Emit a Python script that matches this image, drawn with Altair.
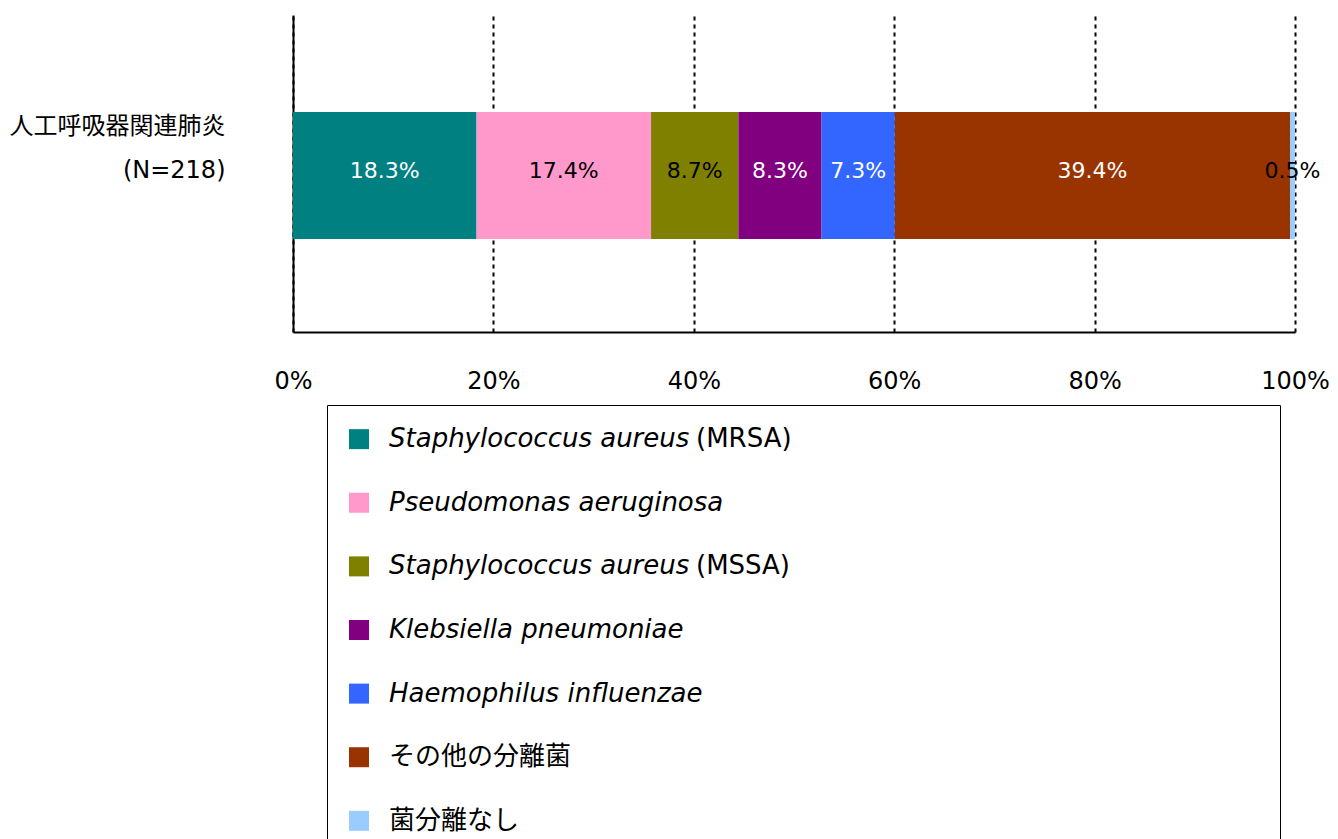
import altair as alt
import pandas as pd

# ---- data ----
row_label = "人工呼吸器関連肺炎|(N=218)"
organisms = [
    "Staphylococcus aureus (MRSA)",
    "Pseudomonas aeruginosa",
    "Staphylococcus aureus (MSSA)",
    "Klebsiella pneumoniae",
    "Haemophilus influenzae",
    "その他の分離菌",
    "菌分離なし",
]
legend_italic = [
    "Staphylococcus aureus",
    "Pseudomonas aeruginosa",
    "Staphylococcus aureus",
    "Klebsiella pneumoniae",
    "Haemophilus influenzae",
    "",
    "",
]
legend_normal = ["(MRSA)", "", "(MSSA)", "", "", "その他の分離菌", "菌分離なし"]
percentages = [18.3, 17.4, 8.7, 8.3, 7.3, 39.4, 0.5]
colors = ["#008080", "#FF99CC", "#808000", "#800080", "#3366FF", "#993300", "#99CCFF"]
label_colors = ["white", "black", "black", "white", "white", "white", "black"]
tick_values = [0, 0.2, 0.4, 0.6, 0.8, 1.0]

FONT = "DejaVu Sans, Noto Sans CJK JP"
NO_STROKE = alt.ViewBackground(stroke="transparent", strokeWidth=0)

df = pd.DataFrame({
    "row": [row_label] * len(organisms),
    "organism": organisms,
    "value": percentages,
    "order": list(range(len(organisms))),
    "tc": label_colors,
})

color_scale = alt.Scale(domain=organisms, range=colors)

base = alt.Chart(df).transform_stack(
    stack="value",
    as_=["x0", "x1"],
    groupby=["row"],
    offset="normalize",
    sort=[alt.SortField("order", order="ascending")],
).transform_calculate(
    xm="(datum.x0 + datum.x1) / 2",
    lbl="format(datum.value, '.1f') + '%'",
)

y_enc = alt.Y(
    "row:N",
    title=None,
    scale=alt.Scale(paddingOuter=0.748, paddingInner=0, align=0.51),
    axis=alt.Axis(
        labelExpr="split(datum.label, '|')",
        labelFontSize=24,
        labelFont=FONT,
        labelColor="black",
        labelLineHeight=44,
        labelPadding=68,
        labelAlign="right",
        labelBaseline="middle",
        labelOffset=-48,
        labelLimit=0,
        ticks=False,
        domainColor="black",
        domainWidth=2,
        grid=False,
        minExtent=285,
        maxExtent=285,
    ),
)

x_axis = alt.Axis(
    values=tick_values,
    format="%",
    labelFontSize=24,
    labelFont=FONT,
    labelColor="black",
    labelPadding=37,
    labelFlush=False,
    ticks=False,
    domainColor="black",
    domainWidth=2,
    grid=True,
    gridColor="black",
    gridDash=[4, 4],
    gridWidth=2,
    gridOpacity=1,
    title=None,
)

bars = base.mark_bar().encode(
    y=y_enc,
    x=alt.X("x0:Q", scale=alt.Scale(domain=[0, 1], nice=False), axis=x_axis),
    x2="x1:Q",
    color=alt.Color("organism:N", scale=color_scale, legend=None),
)

labels = base.mark_text(fontSize=22, font=FONT, baseline="middle", dy=-4).encode(
    y=alt.Y("row:N"),
    x=alt.X("xm:Q"),
    text="lbl:N",
    color=alt.Color("tc:N", scale=None),
)

main = alt.layer(bars, labels).properties(width=1002, height=317, view=NO_STROKE)

# ---- legend ----
leg_df = pd.DataFrame({
    "organism": organisms,
    "ital": legend_italic,
    "norm": legend_normal,
})

leg_base = alt.Chart(leg_df).transform_calculate(
    nx="datum.ital == '' ? 62 : 369"
).encode(
    y=alt.Y(
        "organism:N",
        sort=organisms,
        scale=alt.Scale(type="point", padding=0.537),
        axis=None,
    )
)

squares = leg_base.mark_square(size=400, opacity=1).encode(
    x=alt.value(32),
    color=alt.Color("organism:N", scale=color_scale, legend=None),
)
ital = leg_base.mark_text(
    align="left", baseline="middle", fontSize=26, font=FONT, fontStyle="italic", color="black"
).encode(x=alt.value(62), text="ital:N")
norm = leg_base.mark_text(
    align="left", baseline="middle", fontSize=26, font=FONT, color="black"
).encode(x=alt.X("nx:Q", scale=None), text="norm:N")

legend_chart = alt.layer(squares, ital, norm).properties(
    width=953, height=450, view=alt.ViewBackground(stroke="black", strokeWidth=1)
)

spacer = alt.Chart(pd.DataFrame({"v": [0]})).mark_point(opacity=0).properties(
    width=33, height=10, view=NO_STROKE
)

legend_row = alt.hconcat(spacer, legend_chart, spacing=0)

chart = alt.vconcat(main, legend_row, spacing=11).properties(
    padding={"left": 0, "top": 7, "right": 0, "bottom": 0}
).configure_view(strokeWidth=0).configure(background="white")

chart.save("out.html", embed_options={"renderer": "svg", "actions": False})
